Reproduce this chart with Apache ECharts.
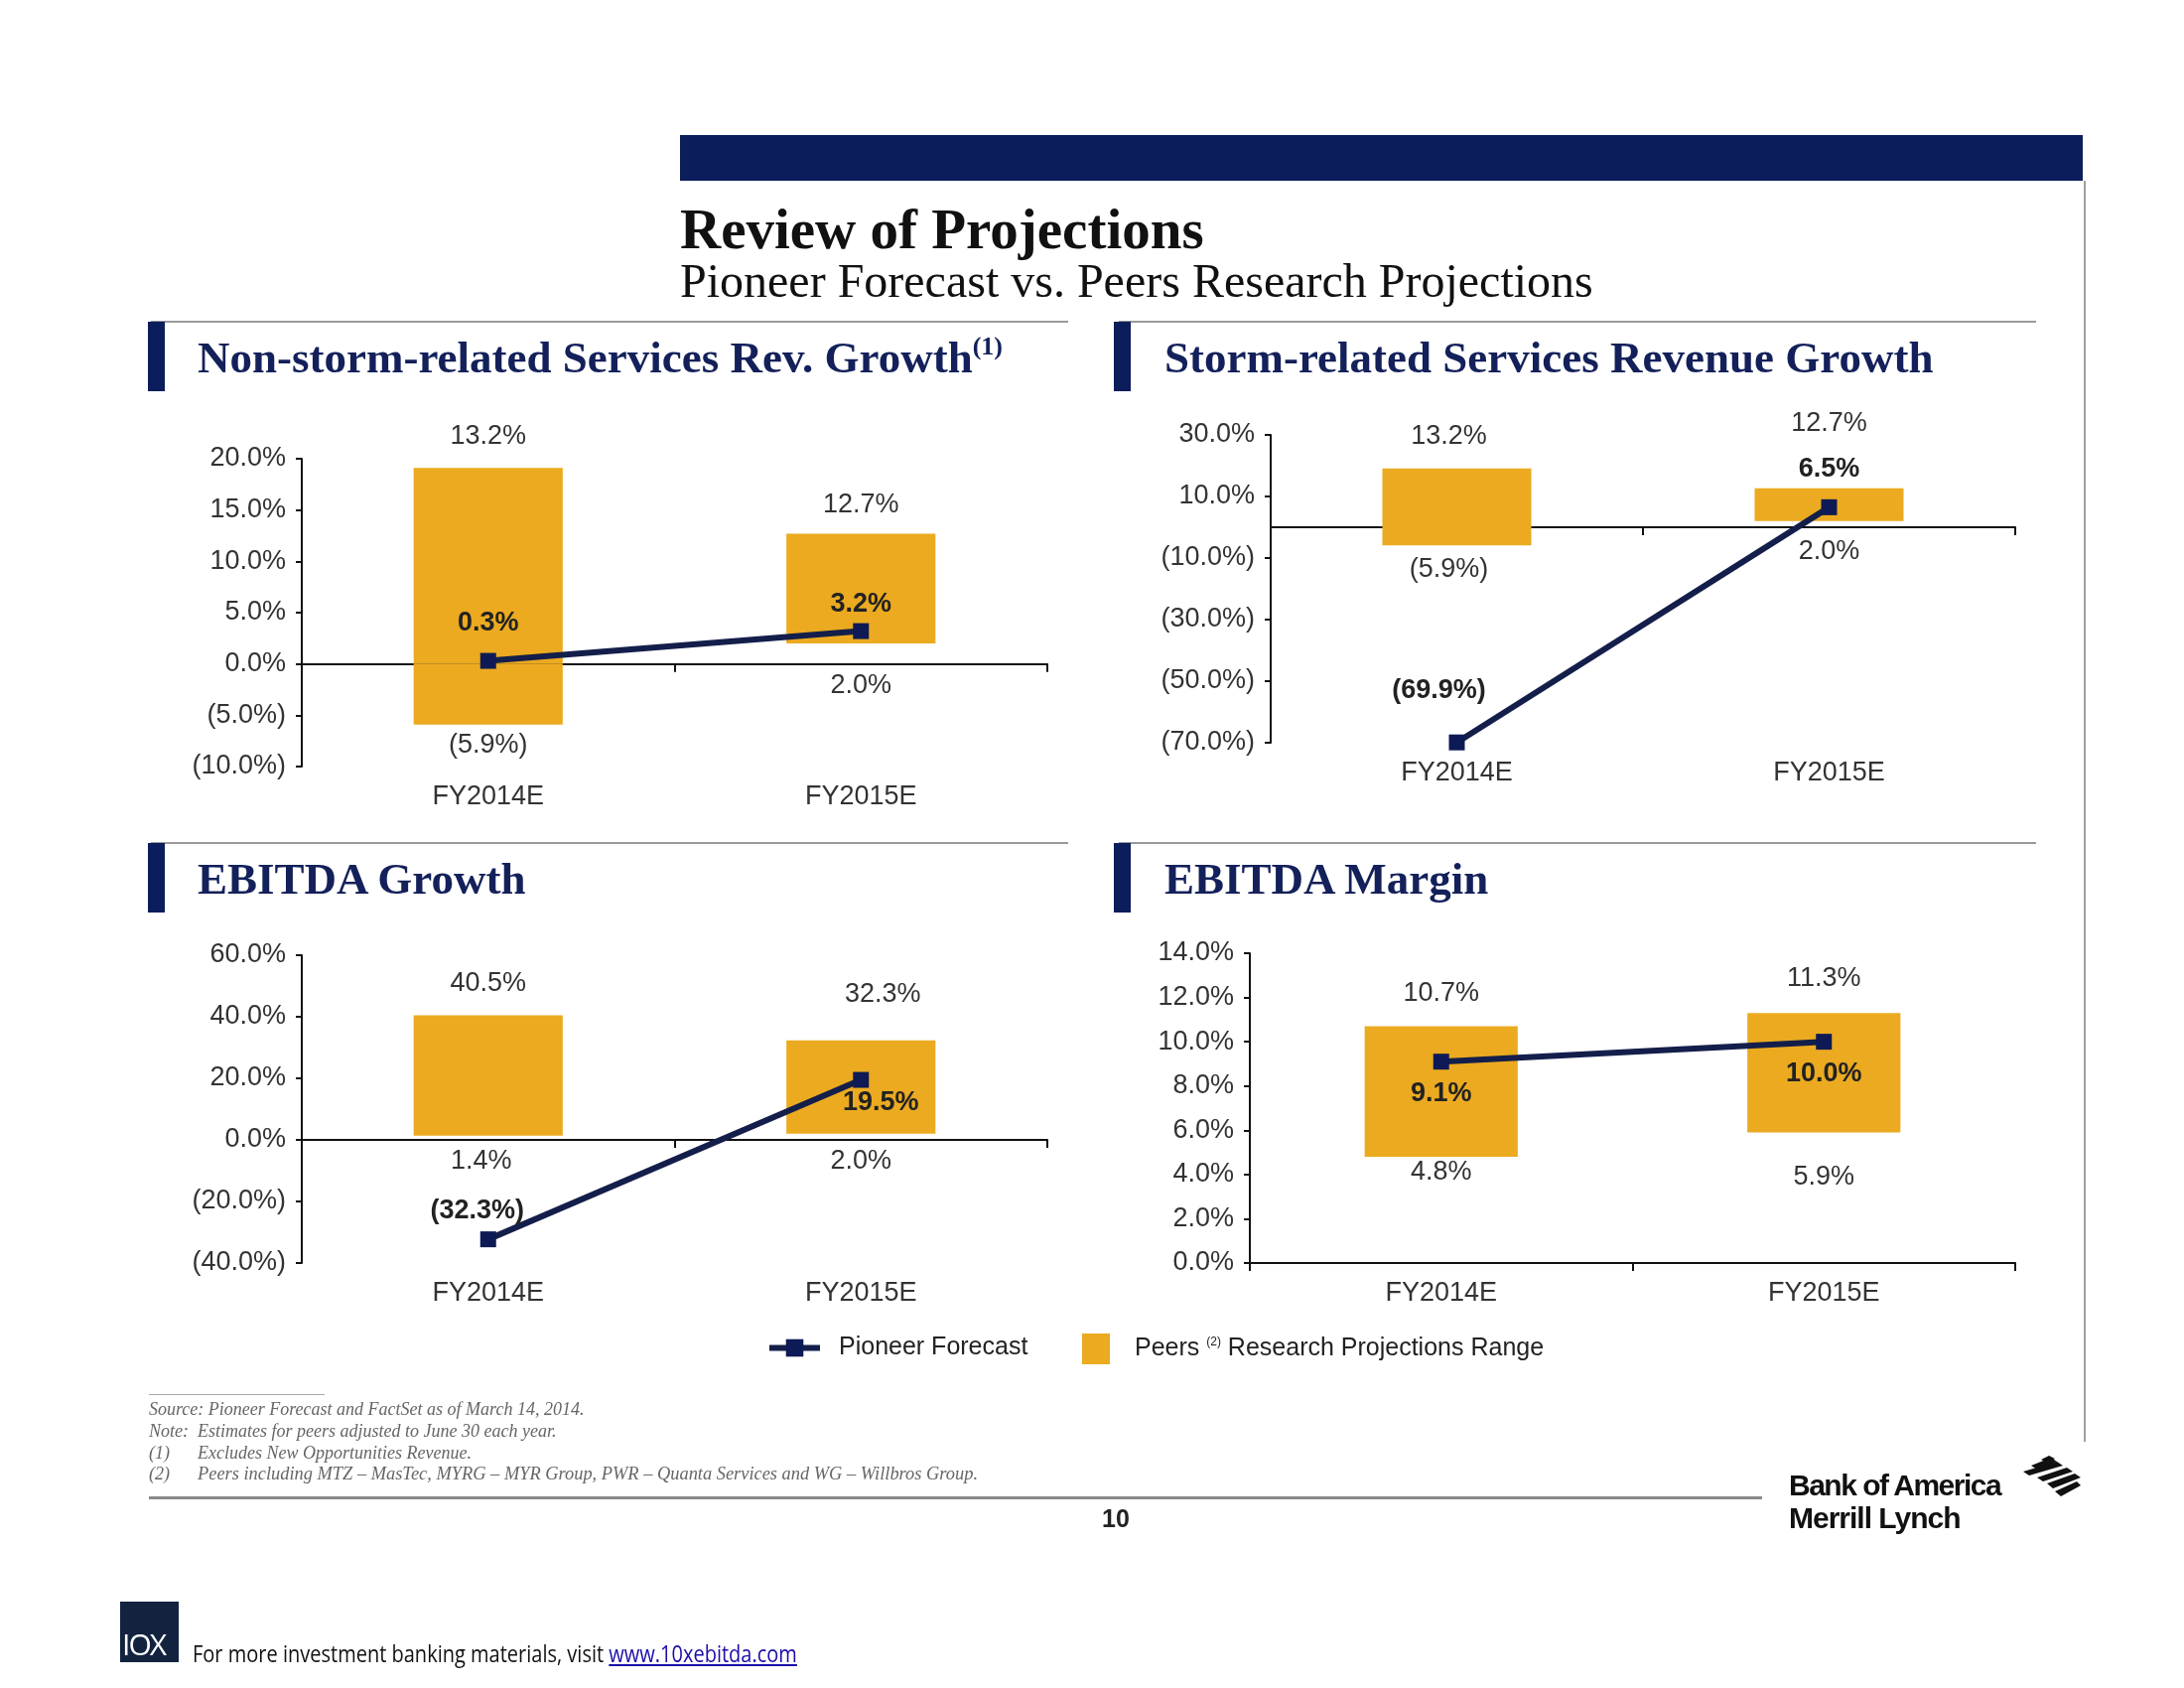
<!DOCTYPE html>
<html>
<head>
<meta charset="utf-8">
<script src="https://cdn.jsdelivr.net/npm/echarts@6/dist/echarts.min.js"></script>
<style>
  html, body { margin:0; padding:0; background:#fff; }
  #page { position:relative; width:2200px; height:1700px; overflow:hidden; background:#fff; }
  #chart { position:absolute; left:0; top:0; width:2200px; height:1700px; z-index:1; }
  .abs { position:absolute; z-index:2; white-space:nowrap; }
  .serif { font-family:"Liberation Serif","DejaVu Serif",serif; }
  .sans { font-family:"Liberation Sans",Arial,sans-serif; }
  .sec { font-family:"Liberation Serif",serif; font-weight:bold; font-size:45px; line-height:45px; color:#13205A; }
  .foot { font-family:"Liberation Serif",serif; font-style:italic; font-size:18px; line-height:19px; color:#666; }
</style>
</head>
<body>
<div id="page">
  <div id="chart"></div>

  <!-- header -->
  <div class="abs" style="left:685px;top:136px;width:1413px;height:46px;background:#0B1D5A;"></div>
  <div class="abs" style="left:2099px;top:182px;width:2px;height:1270px;background:#a0a0a0;"></div>
  <div class="abs serif" style="left:685px;top:202px;font-size:57px;line-height:57px;font-weight:bold;color:#111;">Review of Projections</div>
  <div class="abs serif" style="left:685px;top:259px;font-size:48px;line-height:48px;color:#111;">Pioneer Forecast vs. Peers Research Projections</div>

  <!-- section headers -->
  <div class="abs" style="left:152px;top:323px;width:924px;height:2px;background:#9a9a9a;"></div>
  <div class="abs" style="left:149px;top:324px;width:17px;height:70px;background:#0B1D5A;"></div>
  <div class="abs sec" style="left:199px;top:338px;">Non-storm-related Services Rev. Growth<span style="font-size:26px;line-height:0;position:relative;top:-18px;">(1)</span></div>

  <div class="abs" style="left:1127px;top:323px;width:924px;height:2px;background:#9a9a9a;"></div>
  <div class="abs" style="left:1122px;top:324px;width:17px;height:70px;background:#0B1D5A;"></div>
  <div class="abs sec" style="left:1173px;top:338px;">Storm-related Services Revenue Growth</div>

  <div class="abs" style="left:152px;top:848px;width:924px;height:2px;background:#9a9a9a;"></div>
  <div class="abs" style="left:149px;top:849px;width:17px;height:70px;background:#0B1D5A;"></div>
  <div class="abs sec" style="left:199px;top:863px;">EBITDA Growth</div>

  <div class="abs" style="left:1127px;top:848px;width:924px;height:2px;background:#9a9a9a;"></div>
  <div class="abs" style="left:1122px;top:849px;width:17px;height:70px;background:#0B1D5A;"></div>
  <div class="abs sec" style="left:1173px;top:863px;">EBITDA Margin</div>

  <!-- footnotes -->
  <div class="abs" style="left:150px;top:1404px;width:177px;height:1px;background:#aaa;"></div>
  <div class="abs foot" style="left:150px;top:1410px;">Source: Pioneer Forecast and FactSet as of March 14, 2014.</div>
  <div class="abs foot" style="left:150px;top:1432px;">Note:&nbsp; Estimates for peers adjusted to June 30 each year.</div>
  <div class="abs foot" style="left:150px;top:1454px;">(1)</div>
  <div class="abs foot" style="left:199px;top:1454px;">Excludes New Opportunities Revenue.</div>
  <div class="abs foot" style="left:150px;top:1475px;">(2)</div>
  <div class="abs foot" style="left:199px;top:1475px;font-size:18.4px;">Peers including MTZ – MasTec, MYRG – MYR Group, PWR – Quanta Services and WG – Willbros Group.</div>

  <div class="abs" style="left:150px;top:1507px;width:1625px;height:3px;background:#8a8a8a;"></div>
  <div class="abs sans" style="left:1110px;top:1516px;font-size:25px;line-height:26px;font-weight:bold;color:#222;">10</div>

  <!-- BofA logo -->
  <div class="abs sans" style="left:1802px;top:1480px;font-size:30px;line-height:32px;font-weight:bold;color:#111;letter-spacing:-1.5px;">Bank of America</div>
  <div class="abs sans" style="left:1802px;top:1513px;font-size:30px;line-height:32px;font-weight:bold;color:#111;letter-spacing:-1px;">Merrill Lynch</div>
  <svg class="abs" style="left:2026px;top:1466px;" width="72" height="46" viewBox="0 0 72 46">
    <g fill="#111">
      <polygon points="30,4 38,0 44,3 36,7"/>
      <polygon points="20,10 40,2 46,6 26,14"/>
      <polygon points="12,16 46,6 52,10 18,20"/>
      <polygon points="26,22 56,12 62,16 32,26"/>
      <polygon points="36,28 64,18 70,22 42,33"/>
      <polygon points="44,36 66,26 70,30 50,41"/>
    </g>
  </svg>

  <!-- 10X footer -->
  <div class="abs" style="left:121px;top:1613px;width:59px;height:61px;background:#13233F;"></div>
  <div class="abs" style="left:123px;top:1640px;font-family:'Open Sans',sans-serif;font-size:30px;line-height:32px;color:#fff;letter-spacing:-2px;">IOX</div>
  <div class="abs" style="left:194px;top:1652px;font-family:'Open Sans',sans-serif;font-size:23px;line-height:26px;color:#111;transform:scaleX(0.87);transform-origin:0 0;">For more investment banking materials, visit <span style="color:#1a0dab;text-decoration:underline;">www.10xebitda.com</span></div>
</div>

<script>
// ---------------- data ----------------
const categories = ['FY2014E', 'FY2015E'];

const nonStormLow = [-5.9, 2.0];
const nonStormHigh = [13.2, 12.7];
const nonStormPioneer = [0.3, 3.2];
const nonStormAxis = [-10, 20, 5];      // min, max, step

const stormLow = [-5.9, 2.0];
const stormHigh = [13.2, 12.7];
const stormPioneer = [-69.9, 6.5];
const stormAxis = [-70, 30, 20];

const ebitdaGrowthLow = [1.4, 2.0];
const ebitdaGrowthHigh = [40.5, 32.3];
const ebitdaGrowthPioneer = [-32.3, 19.5];
const ebitdaGrowthAxis = [-40, 60, 20];

const ebitdaMarginLow = [4.8, 5.9];
const ebitdaMarginHigh = [10.7, 11.3];
const ebitdaMarginPioneer = [9.1, 10.0];
const ebitdaMarginAxis = [0, 14, 2];

// ---------------- layout / style ----------------
const GOLD = '#EBAA20';
const NAVY = '#0E1A55';
const LINE = '#141E4A';
const FONT = '"Liberation Sans", Arial, sans-serif';
const FS = 27;

const panels = [
  { low: nonStormLow, high: nonStormHigh, pio: nonStormPioneer, axis: nonStormAxis,
    grid: { left: 304, top: 462, width: 751, height: 310 },
    hiOff: [[0, -13], [0, -10]], loPos: 'bottom', loOff: [[0, 2], [0, 3]],
    pPos: ['top', 'top'], pOff: [[0, -12], [0, -1]] },
  { low: stormLow, high: stormHigh, pio: stormPioneer, axis: stormAxis,
    grid: { left: 1280, top: 438, width: 750, height: 310 },
    hiOff: [[-8, -14], [0, -47]], loPos: 'bottom', loOff: [[-8, 6], [0, 6]],
    pPos: ['top', 'top'], pOff: [[-18, -26], [0, -12]] },
  { low: ebitdaGrowthLow, high: ebitdaGrowthHigh, pio: ebitdaGrowthPioneer, axis: ebitdaGrowthAxis,
    grid: { left: 304, top: 962, width: 751, height: 310 },
    hiOff: [[0, -13], [22, -28]], loPos: 'bottom', loOff: [[-7, 3], [0, 3]],
    pPos: ['top', 'bottom'], pOff: [[-11, -2], [20, -4]] },
  { low: ebitdaMarginLow, high: ebitdaMarginHigh, pio: ebitdaMarginPioneer, axis: ebitdaMarginAxis,
    grid: { left: 1259, top: 960, width: 771, height: 312 },
    hiOff: [[0, -14], [0, -16]], loPos: 'insideTop', loOff: [[0, -3], [0, 27]],
    pPos: ['bottom', 'bottom'], pOff: [[0, 6], [0, 6]] }
];

function fmt(v) {
  return v < 0 ? '(' + Math.abs(v).toFixed(1) + '%)' : v.toFixed(1) + '%';
}

const grids = [], xAxes = [], yAxes = [], series = [];

panels.forEach((p, i) => {
  grids.push(Object.assign({ containLabel: false }, p.grid));

  xAxes.push({
    type: 'category', gridIndex: i, data: categories, boundaryGap: true,
    axisLine: { show: true, onZero: true, lineStyle: { color: '#111', width: 2 } },
    axisTick: { show: true, length: 8, lineStyle: { color: '#111', width: 2 } },
    axisLabel: { show: false }, splitLine: { show: false }
  });
  xAxes.push({
    type: 'category', gridIndex: i, data: categories, position: 'bottom',
    axisLine: { show: false, onZero: false }, axisTick: { show: false },
    axisLabel: { show: true, margin: 17, fontSize: FS, fontFamily: FONT, color: '#333' },
    splitLine: { show: false }
  });
  yAxes.push({
    type: 'value', gridIndex: i, min: p.axis[0], max: p.axis[1], interval: p.axis[2],
    axisLine: { show: true, lineStyle: { color: '#111', width: 2 } },
    axisTick: { show: true, length: 6, lineStyle: { color: '#111', width: 2 } },
    splitLine: { show: false },
    axisLabel: { fontSize: FS, fontFamily: FONT, color: '#333', margin: 16, formatter: fmt }
  });

  const xi = i * 2, yi = i;

  series.push({
    type: 'bar', name: 'low' + i, stack: 'rng' + i, xAxisIndex: xi, yAxisIndex: yi,
    barWidth: '40%', stackStrategy: 'samesign', silent: true,
    data: p.low.map((v, k) => ({
      value: v,
      itemStyle: { color: v < 0 ? GOLD : 'rgba(0,0,0,0)' },
      label: { show: true, position: p.loPos, offset: p.loOff[k], formatter: () => fmt(v) }
    })),
    label: { fontSize: FS, fontFamily: FONT, color: '#333' },
    z: 2
  });
  series.push({
    type: 'bar', name: 'Peers Research Projections Range', stack: 'rng' + i,
    xAxisIndex: xi, yAxisIndex: yi, barWidth: '40%', stackStrategy: 'samesign', silent: true,
    itemStyle: { color: GOLD },
    data: p.high.map((h, k) => ({
      value: +(h - p.low[k]).toFixed(1),
      label: { show: true, position: 'top', offset: p.hiOff[k], formatter: () => fmt(h) }
    })),
    label: { fontSize: FS, fontFamily: FONT, color: '#333' },
    z: 2
  });
  series.push({
    type: 'line', name: 'Pioneer Forecast', xAxisIndex: xi, yAxisIndex: yi, silent: true,
    symbol: 'rect', symbolSize: 16,
    lineStyle: { color: LINE, width: 6 }, itemStyle: { color: NAVY },
    data: p.pio.map((v, k) => ({
      value: v,
      label: { show: true, position: p.pPos[k], offset: p.pOff[k], formatter: () => fmt(v) }
    })),
    label: { fontSize: FS, fontFamily: FONT, fontWeight: 'bold', color: '#222' },
    z: 5
  });
});

const chart = echarts.init(document.getElementById('chart'), null, { renderer: 'canvas' });
chart.setOption({
  animation: false,
  backgroundColor: 'transparent',
  grid: grids, xAxis: xAxes, yAxis: yAxes, series: series,
  legend: [
    { data: ['Pioneer Forecast'], left: 767, top: 1340, itemWidth: 51, itemHeight: 22,
      selectedMode: false, lineStyle: { width: 6, color: LINE }, itemStyle: { color: NAVY },
      textStyle: { fontSize: 25, fontFamily: FONT, color: '#222', padding: [0, 0, 0, 14] } },
    { data: [{ name: 'Peers Research Projections Range', icon: 'rect' }], left: 1085, top: 1338,
      itemWidth: 28, itemHeight: 31, selectedMode: false,
      formatter: () => 'Peers {s|(2)} Research Projections Range',
      textStyle: { fontSize: 25, fontFamily: FONT, color: '#222', padding: [0, 0, 0, 20],
        rich: { s: { fontSize: 12, fontFamily: FONT, color: '#222', verticalAlign: 'top', padding: [0, 0, 8, 0] } } } }
  ]
});
</script>
</body>
</html>
